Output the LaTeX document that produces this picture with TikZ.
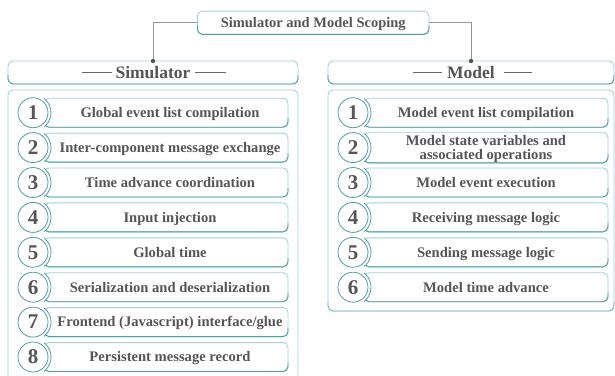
\documentclass[tikz,border=0pt]{standalone}
\usepackage{fontspec}
\setmainfont{Liberation Serif}
\definecolor{lt}{RGB}{160,210,214}
\definecolor{dk}{RGB}{72,160,165}
\definecolor{txt}{RGB}{85,85,85}
\definecolor{conn}{RGB}{150,150,150}
\tikzset{
  box/.style={draw=lt, line width=0.9pt, rounded corners=5pt, fill=white, inner sep=0pt, outer sep=0pt,
    text=txt, align=center, font=\bfseries\fontsize{14.6}{14.5}\selectfont},
  numc/.style={circle, draw=dk, line width=0.8pt, fill=white, minimum size=30pt, inner sep=0pt, outer sep=0pt,
    text=txt, font=\bfseries\fontsize{21}{21}\selectfont},
  itemw/.style={minimum width=244pt, minimum height=29pt},
  connline/.style={draw=conn, line width=0.9pt},
  deco/.style={draw=txt!90, line width=0.7pt}
}
\newcommand\mystrut{\rule[-3.4pt]{0pt}{16.4pt}}
\newcommand\darkbottom[1]{%
  \draw[dk, line width=0.9pt, rounded corners=5pt] ([yshift=9pt]#1.south west) -- (#1.south west) -- (#1.south east) -- ([yshift=9pt]#1.south east);}
\newcommand\rowitem[6]{%
  \node[box, itemw] (#1r) at (#3,#4) {\mystrut #6};
  \darkbottom{#1r}
  \coordinate (#1o) at (#2,#4);
  \begin{scope}
    \clip (#1r.south west) rectangle (#1r.north east);
    \draw[dk, line width=0.8pt, fill=white] (#1o) circle (18pt);
  \end{scope}
  \node[numc] (#1c) at (#1o) {#5};}
\newcommand\sh{\hspace*{8pt}}
\begin{document}
\begin{tikzpicture}[x=1pt,y=-1pt]
\useasboundingbox (0,0) rectangle (615,375);
\clip (0,0) rectangle (615,375);
\fill[white] (0,0) rectangle (615,375);
% title
\node[box, minimum width=231.5pt, minimum height=23.3pt, font=\bfseries\fontsize{14.5}{15}\selectfont] (title) at (313.2,22.7) {\mystrut Simulator and Model Scoping};
\darkbottom{title}
% headers
\node[box, minimum width=290pt, minimum height=23pt, font=\bfseries\fontsize{17.5}{18}\selectfont] (hs) at (153,72.5) {Simulator};
\darkbottom{hs}
\node[box, minimum width=286pt, minimum height=23pt, font=\bfseries\fontsize{17.5}{18}\selectfont] (hm) at (471,72.5) {Model};
\darkbottom{hm}
\draw[deco] ([xshift=-71pt]hs.center) -- ([xshift=-41pt]hs.center);
\draw[deco] ([xshift=42pt]hs.center) -- ([xshift=73pt]hs.center);
\draw[deco] ([xshift=-58pt]hm.center) -- ([xshift=-29pt]hm.center);
\draw[deco] ([xshift=33pt]hm.center) -- ([xshift=61pt]hm.center);
% connectors
\draw[connline] (title.west) -| (hs.north);
\draw[connline] (title.east) -| (hm.north);
\fill[txt] (hs.north) circle (2.2pt);
\fill[txt] (hm.north) circle (2.2pt);
% containers
\node[box, minimum width=290pt, minimum height=305pt] (cs) at (153,242.5) {};
\node[box, minimum width=286pt, minimum height=221pt] (cm) at (471,200.5) {};
\draw[lt!60!dk, line width=0.9pt, rounded corners=5pt] ([yshift=9pt]cm.south west) -- (cm.south west) -- (cm.south east) -- ([yshift=9pt]cm.south east);
% simulator items
\rowitem{s1}{33}{166}{112.7}{1}{\sh Global event list compilation}
\rowitem{s2}{33}{166}{147.6}{2}{\sh Inter-component message exchange}
\rowitem{s3}{33}{166}{182.5}{3}{\sh Time advance coordination}
\rowitem{s4}{33}{166}{217.4}{4}{\sh Input injection}
\rowitem{s5}{33}{166}{252.3}{5}{\sh Global time}
\rowitem{s6}{33}{166}{287.2}{6}{\sh Serialization and deserialization}
\rowitem{s7}{33}{166}{322.1}{7}{\sh Frontend (Javascript) interface/glue}
\rowitem{s8}{33}{166}{357.0}{8}{\sh Persistent message record}
% model items
\rowitem{m1}{353}{486}{112.7}{1}{Model event list compilation}
\rowitem{m2}{353}{486}{147.6}{2}{Model state variables and\\associated operations}
\rowitem{m3}{353}{486}{182.5}{3}{Model event execution}
\rowitem{m4}{353}{486}{217.4}{4}{Receiving message logic}
\rowitem{m5}{353}{486}{252.3}{5}{Sending message logic}
\rowitem{m6}{353}{486}{287.2}{6}{Model time advance}
\end{tikzpicture}
\end{document}
